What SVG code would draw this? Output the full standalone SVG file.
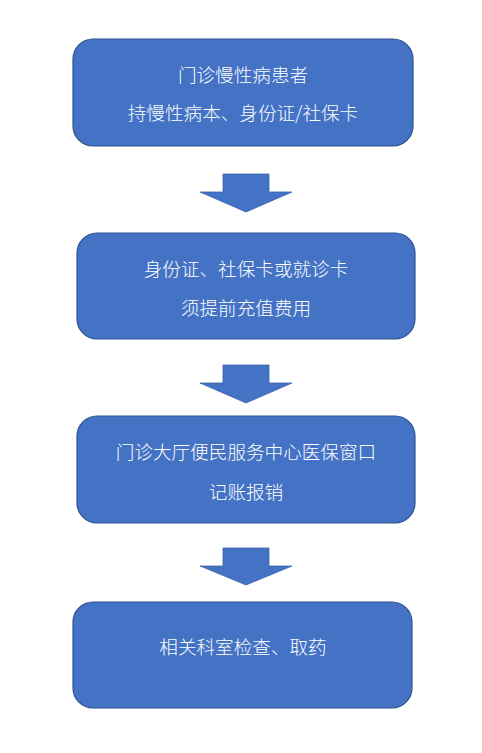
<svg xmlns="http://www.w3.org/2000/svg" width="482" height="753" viewBox="0 0 482 753">
<style>
.box{fill:#4472C4;stroke:#2F528F;stroke-width:1.2}
.arr{fill:#4472C4;stroke:#3A64AE;stroke-width:0.8}
.t{fill:#ffffff;font-family:"Noto Sans CJK SC","Noto Sans",sans-serif;font-size:18.6px;font-weight:300;text-anchor:middle;dominant-baseline:central}
</style>
<rect width="482" height="753" fill="#ffffff"/>
<g id="connectors">
<polygon class="arr" points="223,174 269,174 269,192 292,192 246,212 200,192 223,192"/>
<polygon class="arr" points="223,365 269,365 269,383 292,383 246,403 200,383 223,383"/>
<polygon class="arr" points="223,548 269,548 269,566 292,566 246,585 200,566 223,566"/>
</g>
<g id="node1">
<rect class="box" x="73" y="39" width="340" height="107" rx="20"/>
<text class="t" x="243" y="73">门诊慢性病患者</text>
<text class="t" x="243" y="111">持慢性病本、身份证/社保卡</text>
</g>
<g id="node2">
<rect class="box" x="77" y="233" width="338" height="106" rx="20"/>
<text class="t" x="246" y="267">身份证、社保卡或就诊卡</text>
<text class="t" x="246" y="306">须提前充值费用</text>
</g>
<g id="node3">
<rect class="box" x="77" y="416" width="338" height="107" rx="20"/>
<text class="t" x="246" y="450">门诊大厅便民服务中心医保窗口</text>
<text class="t" x="246" y="490">记账报销</text>
</g>
<g id="node4">
<rect class="box" x="73" y="602" width="339" height="106" rx="20"/>
<text class="t" x="243" y="645">相关科室检查、取药</text>
</g>
</svg>
